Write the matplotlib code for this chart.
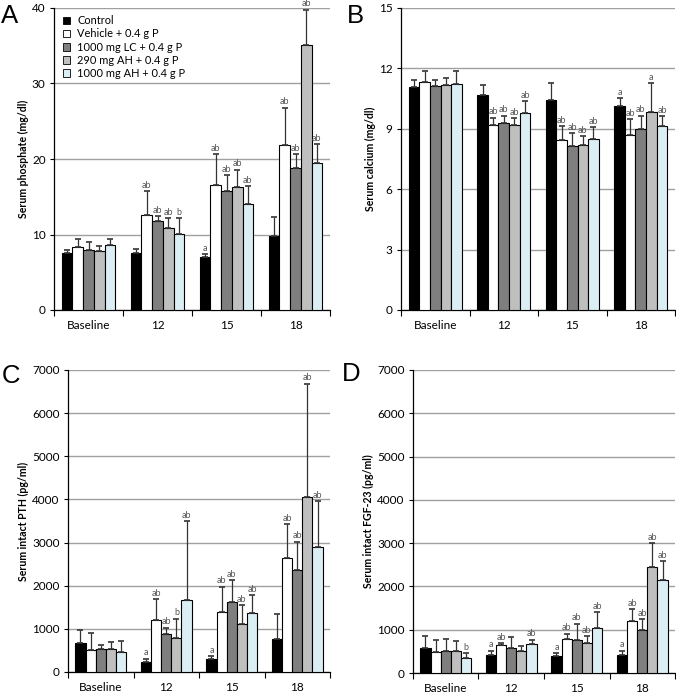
import matplotlib
matplotlib.use("Agg")
import matplotlib.pyplot as plt
from matplotlib.patches import Patch
import numpy as np

plt.rcParams['font.family'] = ['Lato', 'DejaVu Sans']

groups = ["Baseline", "12", "15", "18"]
series = ["Control", "Vehicle + 0.4 g P", "1000 mg LC + 0.4 g P",
          "290 mg AH + 0.4 g P", "1000 mg AH + 0.4 g P"]
colors = ["#000000", "#ffffff", "#7f7f7f", "#bfbfbf", "#dbeef4"]

# values per series, per group (Baseline, 12, 15, 18)
phos = [[7.6, 7.6, 7.0, 9.8],
        [8.4, 12.6, 16.6, 21.8],
        [8.0, 11.8, 15.8, 18.8],
        [7.8, 10.8, 16.3, 35.1],
        [8.6, 10.1, 14.0, 19.5]]
phos_err = [[0.4, 0.5, 0.4, 2.5],
            [1.0, 3.1, 4.1, 5.0],
            [1.0, 0.6, 2.1, 1.9],
            [0.7, 1.4, 2.3, 4.7],
            [0.8, 2.1, 2.4, 2.5]]
phos_lab = [["", "", "a", ""],
            ["", "ab", "ab", "ab"],
            ["", "ab", "ab", "ab"],
            ["", "ab", "ab", "ab"],
            ["", "b", "ab", "ab"]]

calc = [[11.06, 10.66, 10.41, 10.11],
        [11.30, 9.17, 8.42, 8.69],
        [11.14, 9.28, 8.17, 9.00],
        [11.19, 9.17, 8.19, 9.83],
        [11.24, 9.78, 8.49, 9.12]]
calc_err = [[0.38, 0.50, 0.86, 0.42],
            [0.55, 0.39, 0.70, 0.79],
            [0.30, 0.38, 0.62, 0.66],
            [0.33, 0.36, 0.43, 1.44],
            [0.61, 0.58, 0.59, 0.53]]
calc_lab = [["", "", "", "a"],
            ["", "ab", "ab", "ab"],
            ["", "ab", "ab", "ab"],
            ["", "ab", "ab", "a"],
            ["", "ab", "ab", "ab"]]

pth = [[680, 232, 294, 757],
       [502, 1198, 1399, 2635],
       [533, 873, 1615, 2365],
       [541, 796, 1105, 4065],
       [456, 1661, 1376, 2906]]
pth_err = [[294, 77, 77, 580],
           [394, 487, 579, 788],
           [93, 155, 518, 657],
           [154, 440, 448, 2620],
           [255, 1839, 401, 1058]]
pth_lab = [["", "a", "a", ""],
           ["", "ab", "ab", "ab"],
           ["", "ab", "ab", "ab"],
           ["", "b", "ab", "ab"],
           ["", "ab", "ab", "ab"]]

fgf = [[579, 424, 386, 424],
       [478, 656, 787, 1196],
       [502, 586, 772, 988],
       [509, 517, 694, 2454],
       [347, 679, 1042, 2145]]
fgf_err = [[285, 93, 77, 93],
           [294, 38, 123, 285],
           [285, 240, 370, 262],
           [224, 100, 155, 555],
           [116, 93, 362, 440]]
fgf_lab = [["", "a", "a", "a"],
           ["", "ab", "ab", "ab"],
           ["", "", "ab", "ab"],
           ["", "", "ab", "ab"],
           ["b", "ab", "ab", "ab"]]

W, H = 676, 693
fig = plt.figure(figsize=(W / 100, H / 100), dpi=100)


def px_axes(left, top, right, bottom):
    return fig.add_axes([left / W, (H - bottom) / H, (right - left) / W, (bottom - top) / H])


def panel(ax, vals, errs, labs, ymax, ystep, ylabel, letter, lx, ly):
    bw = 0.155
    offs = (np.arange(5) - 2) * bw
    for i in range(5):
        x = np.arange(4) + 0.5 + offs[i]
        ax.bar(x, vals[i], width=bw, color=colors[i], edgecolor="black",
               linewidth=0.8, zorder=3)
        ax.errorbar(x, vals[i], yerr=[np.zeros(4), errs[i]], fmt="none",
                    ecolor="#333333", elinewidth=0.9, capsize=2.5, capthick=1.2, zorder=4)
        for j in range(4):
            if labs[i][j]:
                ax.text(x[j], vals[i][j] + errs[i][j] + ymax * 0.004, labs[i][j],
                        ha="center", va="bottom", fontsize=6.5, color="#555555", zorder=5)
    ax.set_xlim(0, 4)
    ax.set_ylim(0, ymax)
    ax.set_yticks(np.arange(0, ymax + ystep / 2, ystep))
    ax.set_xticks(np.arange(5))
    ax.set_xticklabels([])
    ax.set_xticks(np.arange(4) + 0.5, minor=True)
    ax.set_xticklabels(groups, minor=True)
    ax.tick_params(axis="x", which="minor", length=0, pad=7, labelsize=8.5)
    ax.tick_params(axis="x", which="major", length=4, width=0.8)
    ax.tick_params(axis="y", length=3, width=0.8, labelsize=8.5, pad=3)
    ax.yaxis.grid(True, color="#a0a0a0", linewidth=1.0, zorder=0)
    ax.set_axisbelow(True)
    for s in ["top", "right"]:
        ax.spines[s].set_visible(False)
    ax.spines["left"].set_linewidth(0.9)
    ax.spines["bottom"].set_linewidth(0.9)
    ax.set_ylabel(ylabel, fontsize=7.6, fontweight="bold", labelpad=2)
    fig.text(lx / W, 1 - ly / H, letter, fontsize=18.5, ha="left", va="baseline",
             family="Liberation Sans")


axA = px_axes(54, 8, 330, 310)
panel(axA, phos, phos_err, phos_lab, 40, 10, "Serum phosphate (mg/dl)", "A", 1, 23)
handles = [Patch(facecolor=c, edgecolor="black", linewidth=0.6) for c in colors]
axA.legend(handles, series, loc="upper left", bbox_to_anchor=(0.0, 1.005), frameon=False,
           fontsize=7.9, handlelength=0.7, handleheight=0.7, handletextpad=0.6,
           labelspacing=0.2, borderaxespad=0.4)

axB = px_axes(401, 8, 675, 310)
panel(axB, calc, calc_err, calc_lab, 15, 3, "Serum calcium (mg/dl)", "B", 347, 23)

axC = px_axes(68, 370, 330, 672)
panel(axC, pth, pth_err, pth_lab, 7000, 1000, "Serum intact PTH (pg/ml)", "C", 2, 383)

axD = px_axes(413, 370, 675, 673)
panel(axD, fgf, fgf_err, fgf_lab, 7000, 1000, "Serum intact FGF-23 (pg/ml)", "D", 342, 381)

fig.savefig("out.png", dpi=100)
